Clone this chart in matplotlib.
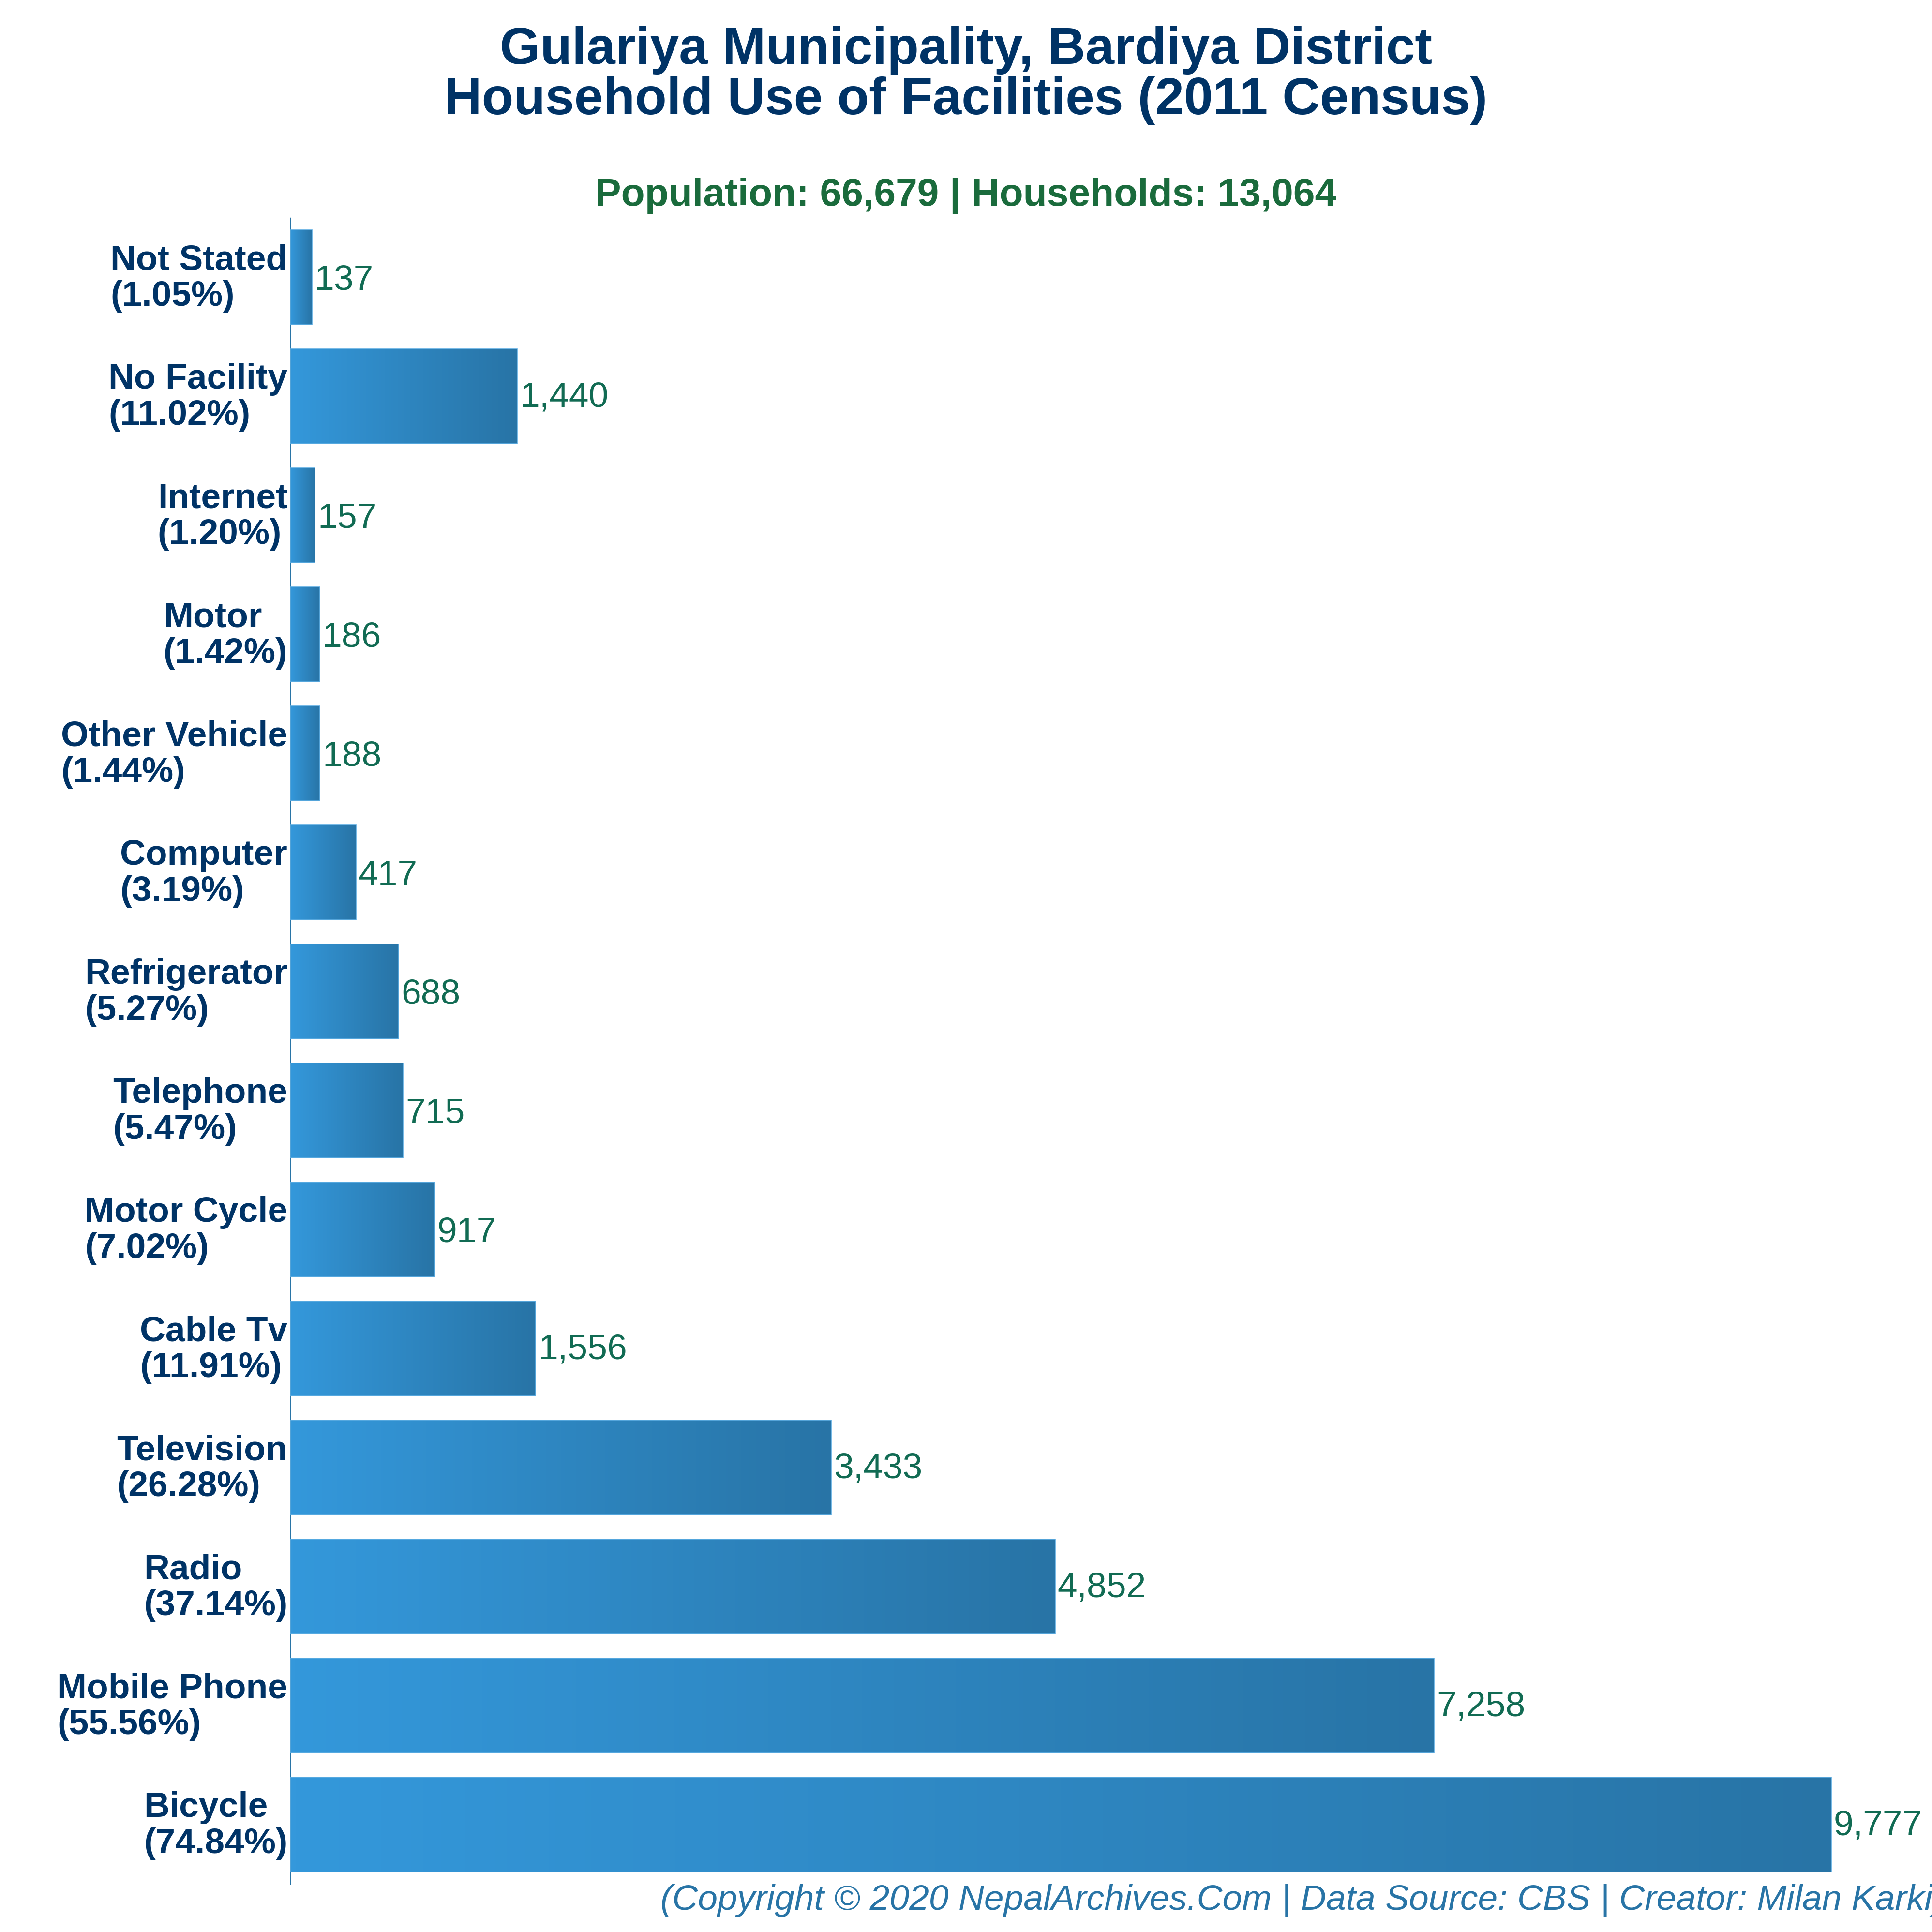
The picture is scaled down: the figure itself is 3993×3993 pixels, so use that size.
import numpy as np
import matplotlib.pyplot as plt
from matplotlib.colors import LinearSegmentedColormap
from matplotlib.transforms import ScaledTranslation

# top of the chart first
categories = ['Not Stated', 'No Facility', 'Internet', 'Motor', 'Other Vehicle', 'Computer',
              'Refrigerator', 'Telephone', 'Motor Cycle', 'Cable Tv', 'Television', 'Radio',
              'Mobile Phone', 'Bicycle']
households = [137, 1440, 157, 186, 188, 417, 688, 715, 917, 1556, 3433, 4852, 7258, 9777]
percents = ['1.05', '11.02', '1.20', '1.42', '1.44', '3.19', '5.27', '5.47', '7.02', '11.91',
            '26.28', '37.14', '55.56', '74.84']

title = 'Gulariya Municipality, Bardiya District\nHousehold Use of Facilities (2011 Census)'
subtitle = 'Population: 66,679 | Households: 13,064'
footer = '(Copyright © 2020 NepalArchives.Com | Data Source: CBS | Creator: Milan Karki)'

plt.rcParams['font.family'] = ['Liberation Sans', 'DejaVu Sans']

W = 3993.0
fig = plt.figure(figsize=(W / 300, W / 300), dpi=300, facecolor='white')
ax = fig.add_axes([600 / W, 1 - 3894 / W, (W - 600) / W, (3894 - 450) / W])

grad = LinearSegmentedColormap.from_list('bar', ['#3498db', '#2874a6'])
ramp = np.linspace(0, 1, 256).reshape(1, -1)

y = np.arange(len(categories))[::-1]
for yi, val in zip(y, households):
    bar = ax.barh(yi, val, height=0.8, facecolor='none', edgecolor='#5dade2', linewidth=0.4, zorder=3)[0]
    img = ax.imshow(ramp, cmap=grad, aspect='auto', extent=(0, val, yi - 0.4, yi + 0.4), zorder=2)
    img.set_clip_path(bar.get_path(), bar.get_transform())
    # labels with a comma sit a bit higher in the original
    dy = -0.7 if val >= 1000 else -1.7
    ax.annotate(f'{val:,}', xy=(val, yi), xytext=(1.2, dy), textcoords='offset points',
                va='center', ha='left', fontsize=17.6, color='#116b53')

ax.set_xlim(0, (W - 600) / 0.32577)
ax.set_ylim(-0.5, 13.5)

for s in ['top', 'right', 'bottom']:
    ax.spines[s].set_visible(False)
ax.spines['left'].set_linewidth(0.35)
ax.spines['left'].set_color('#2874a6')
ax.set_xticks([])
ax.set_yticks(y)
ax.set_yticklabels([f'{c}\n({p}%)' for c, p in zip(categories, percents)],
                   fontsize=17.6, fontweight='bold', color='#003366', multialignment='left',
                   linespacing=1.12)
ax.tick_params(axis='y', length=0, pad=1.4)
# nudge the two-line labels up a little
for lab in ax.get_yticklabels():
    lab.set_transform(lab.get_transform() + ScaledTranslation(0, 2.0 / 72, fig.dpi_scale_trans))

fig.text(0.5, 1 - 156 / W, title, ha='center', va='center', fontsize=25.8, fontweight='bold',
         color='#003366', linespacing=1.06)
fig.text(0.5, 1 - 425 / W, subtitle, ha='center', va='baseline', fontsize=19.3, fontweight='bold',
         color='#1a6b3c')
fig.text(1365 / W, 1 - 3947 / W, footer, ha='left', va='baseline', fontsize=17.6, style='italic',
         color='#2874a6')

fig.savefig('out.png', dpi=300)
